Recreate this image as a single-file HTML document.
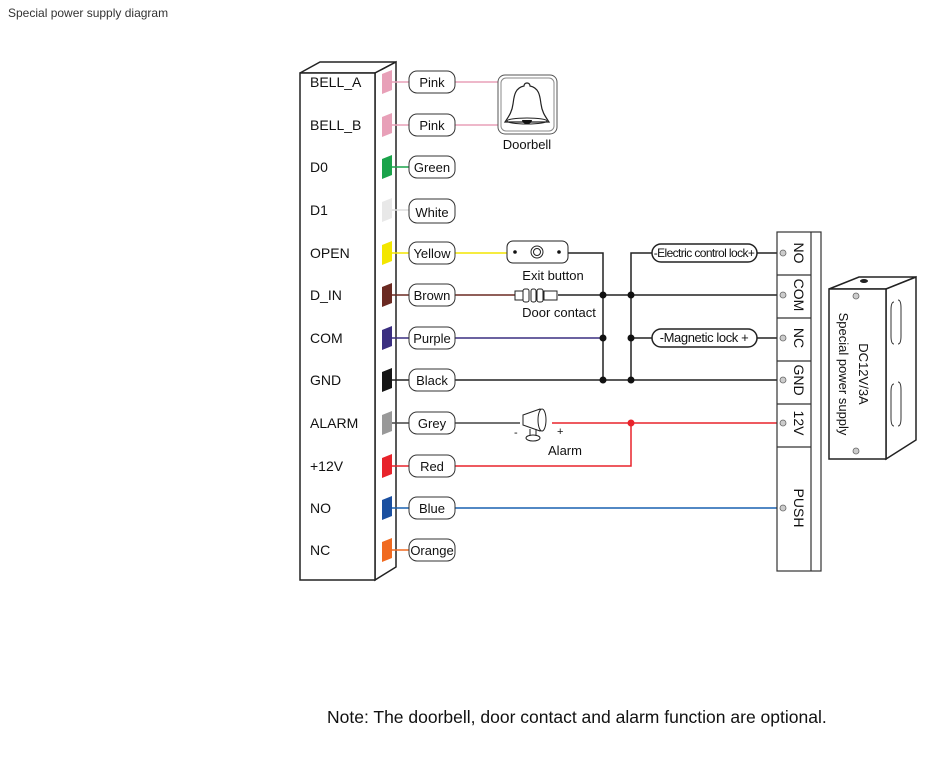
<!DOCTYPE html>
<html><head><meta charset="utf-8"><style>
body{margin:0;width:949px;height:752px;background:#fff;overflow:hidden;font-family:"Liberation Sans",sans-serif}
</style></head><body>
<svg width="949" height="752" viewBox="0 0 949 752" xmlns="http://www.w3.org/2000/svg" font-family="Liberation Sans, DejaVu Sans, sans-serif">
<text x="8" y="17" font-size="12" fill="#333">Special power supply diagram</text>
<!-- main box -->
<g stroke="#222" stroke-width="1.5" fill="#fff">
<polygon points="300,73 320,62 396,62 375,73"/>
<polygon points="375,73 396,62 396,567 375,580"/>
<rect x="300" y="73" width="75" height="507"/>
</g>
<g font-size="14" fill="#111">
<text x="310" y="87">BELL_A</text><text x="310" y="130">BELL_B</text><text x="310" y="172">D0</text><text x="310" y="215">D1</text><text x="310" y="258">OPEN</text><text x="310" y="300">D_IN</text><text x="310" y="343">COM</text><text x="310" y="385">GND</text><text x="310" y="428">ALARM</text><text x="310" y="471">+12V</text><text x="310" y="513">NO</text><text x="310" y="555">NC</text>
</g>
<!-- wires -->
<g fill="none" stroke-width="1.5">
<path d="M390 82H557M390 125H557" stroke="#e8a0b8"/>
<path d="M390 167H410" stroke="#1aa34a"/>
<path d="M390 210H410" stroke="#ddd"/>
<path d="M390 253H507" stroke="#f3e600"/>
<path d="M390 295H515" stroke="#6b2a22"/>
<path d="M390 338H603" stroke="#3a2e80"/>
<path d="M390 380H780" stroke="#222"/>
<path d="M390 423H520" stroke="#444"/>
<path d="M552 423H780M390 466H631V423" stroke="#e8232b"/>
<path d="M390 508H780" stroke="#1860b0"/>
<path d="M390 550H410" stroke="#f06a20"/>
<path d="M568 253H603V380M558 295H780M631 380V253H652M757 253H780M631 338H652M757 338H780" stroke="#222"/>
</g>
<!-- colored tabs -->
<g>
<polygon points="382,74 392,70 392,90 382,94" fill="#e8a0b8"/>
<polygon points="382,117 392,113 392,133 382,137" fill="#e8a0b8"/>
<polygon points="382,159 392,155 392,175 382,179" fill="#1aa34a"/>
<polygon points="382,202 392,198 392,218 382,222" fill="#e8e8e8"/>
<polygon points="382,245 392,241 392,261 382,265" fill="#f3e600"/>
<polygon points="382,287 392,283 392,303 382,307" fill="#6b2a22"/>
<polygon points="382,330 392,326 392,346 382,350" fill="#3a2e80"/>
<polygon points="382,372 392,368 392,388 382,392" fill="#151515"/>
<polygon points="382,415 392,411 392,431 382,435" fill="#999"/>
<polygon points="382,458 392,454 392,474 382,478" fill="#e8232b"/>
<polygon points="382,500 392,496 392,516 382,520" fill="#1a4fa0"/>
<polygon points="382,542 392,538 392,558 382,562" fill="#f06a20"/>
</g>
<!-- pills -->
<g stroke="#333" stroke-width="1" fill="#fff">
<rect x="409" y="71" width="46" height="22" rx="8"/><rect x="409" y="114" width="46" height="22" rx="8"/><rect x="409" y="156" width="46" height="22" rx="8"/><rect x="409" y="199" width="46" height="24" rx="8"/><rect x="409" y="242" width="46" height="22" rx="8"/><rect x="409" y="284" width="46" height="22" rx="8"/><rect x="409" y="327" width="46" height="22" rx="8"/><rect x="409" y="369" width="46" height="22" rx="8"/><rect x="409" y="412" width="46" height="22" rx="8"/><rect x="409" y="455" width="46" height="22" rx="8"/><rect x="409" y="497" width="46" height="22" rx="8"/><rect x="409" y="539" width="46" height="22" rx="8"/>
</g>
<g font-size="13" fill="#111" text-anchor="middle">
<text x="432" y="87">Pink</text><text x="432" y="130">Pink</text><text x="432" y="172">Green</text><text x="432" y="217">White</text><text x="432" y="258">Yellow</text><text x="432" y="300">Brown</text><text x="432" y="343">Purple</text><text x="432" y="385">Black</text><text x="432" y="428">Grey</text><text x="432" y="471">Red</text><text x="432" y="513">Blue</text><text x="432" y="555">Orange</text>
</g>
<!-- doorbell -->
<rect x="498" y="75" width="59" height="59" rx="7" fill="#fff" stroke="#555"/>
<rect x="501" y="78" width="53" height="53" rx="5" fill="none" stroke="#888"/>
<path d="M527 83c-3 0-3 3-3 3c-10 2-10 12-11 18c-1 8-4 12-8 18h44c-4-6-7-10-8-18c-1-6-1-16-11-18c0 0 0-3-3-3z" fill="#fff" stroke="#222" stroke-width="1.2"/>
<ellipse cx="527" cy="121" rx="20" ry="3" fill="none" stroke="#222"/>
<path d="M522 120a5 4 0 0 0 10 0z" fill="#111"/>
<text x="527" y="149" font-size="13" text-anchor="middle" fill="#111">Doorbell</text>
<!-- exit button -->
<rect x="507" y="241" width="61" height="22" rx="6" fill="#fff" stroke="#222"/>
<circle cx="515" cy="252" r="1.8" fill="#111"/><circle cx="559" cy="252" r="1.8" fill="#111"/>
<circle cx="537" cy="252" r="6" fill="#fff" stroke="#222"/><circle cx="537" cy="252" r="3.5" fill="none" stroke="#222"/>
<text x="553" y="280" font-size="13" text-anchor="middle" fill="#111">Exit button</text>
<!-- door contact -->
<g fill="#fff" stroke="#222" stroke-width="1">
<rect x="515" y="291" width="8" height="9"/><rect x="523" y="289" width="6" height="13" rx="2"/><rect x="531" y="289" width="5" height="13" rx="2"/><rect x="537" y="289" width="6" height="13" rx="2"/><rect x="544" y="291" width="13" height="9"/>
</g>
<text x="559" y="317" font-size="13" text-anchor="middle" fill="#111">Door contact</text>
<!-- alarm -->
<g fill="#fff" stroke="#222" stroke-width="1">
<path d="M523 415l17-6v22l-17-6z"/>
<ellipse cx="542" cy="420" rx="4" ry="11"/>
<ellipse cx="533" cy="438" rx="7" ry="3"/>
<path d="M530 429v7M536 429v7"/>
</g>
<text x="514" y="436" font-size="11" fill="#111">-</text>
<text x="557" y="435" font-size="11" fill="#111">+</text>
<text x="565" y="455" font-size="13" text-anchor="middle" fill="#111">Alarm</text>
<!-- dots -->
<g fill="#111"><circle cx="603" cy="295" r="3.5"/><circle cx="603" cy="338" r="3.5"/><circle cx="603" cy="380" r="3.5"/><circle cx="631" cy="295" r="3.5"/><circle cx="631" cy="338" r="3.5"/><circle cx="631" cy="380" r="3.5"/></g>
<circle cx="631" cy="423" r="3.5" fill="#e8232b"/>
<!-- lock labels -->
<rect x="652" y="244" width="105" height="18" rx="9" fill="#fff" stroke="#222" stroke-width="1.5"/>
<text x="704" y="257" font-size="12" text-anchor="middle" fill="#111" letter-spacing="-0.6">-Electric control lock+</text>
<rect x="652" y="329" width="105" height="18" rx="9" fill="#fff" stroke="#222" stroke-width="1.5"/>
<text x="704" y="342" font-size="13" text-anchor="middle" fill="#111" letter-spacing="-0.4">-Magnetic lock +</text>
<!-- terminal strip -->
<g fill="#fff" stroke="#333" stroke-width="1.2">
<rect x="777" y="232" width="44" height="339"/>
<path d="M811 232V571M777 275H811M777 318H811M777 361H811M777 404H811M777 447H811" fill="none"/>
</g>
<g fill="#ccc" stroke="#666" stroke-width="0.8">
<circle cx="783" cy="253" r="3"/><circle cx="783" cy="295" r="3"/><circle cx="783" cy="338" r="3"/><circle cx="783" cy="380" r="3"/><circle cx="783" cy="423" r="3"/><circle cx="783" cy="508" r="3"/>
</g>
<g font-size="14" fill="#111" text-anchor="middle">
<text transform="translate(794,253) rotate(90)">NO</text>
<text transform="translate(794,295) rotate(90)">COM</text>
<text transform="translate(794,338) rotate(90)">NC</text>
<text transform="translate(794,380) rotate(90)">GND</text>
<text transform="translate(794,423) rotate(90)">12V</text>
<text transform="translate(794,508) rotate(90)">PUSH</text>
</g>
<!-- power supply -->
<g fill="#fff" stroke="#222" stroke-width="1.5">
<polygon points="829,289 859,277 916,277 886,289"/>
<polygon points="886,289 916,277 916,440 886,459"/>
<rect x="829" y="289" width="57" height="170"/>
</g>
<ellipse cx="864" cy="281" rx="4" ry="2" fill="#222"/>
<g fill="none" stroke="#333" stroke-width="1">
<path d="M894 302q-3 0-3 8v26q0 8 3 8M898 300q3 0 3 8v28q0 8-3 8"/>
<path d="M894 384q-3 0-3 8v26q0 8 3 8M898 382q3 0 3 8v28q0 8-3 8"/>
</g>
<g fill="#ccc" stroke="#666" stroke-width="0.8"><circle cx="856" cy="296" r="3"/><circle cx="856" cy="451" r="3"/></g>
<g font-size="13" fill="#111" text-anchor="middle">
<text transform="translate(859,374) rotate(90)">DC12V/3A</text>
<text transform="translate(839,374) rotate(90)">Special power supply</text>
</g>
<text x="327" y="723" font-size="17.5" fill="#111">Note: The doorbell, door contact and alarm function are optional.</text>
</svg>
</body></html>
